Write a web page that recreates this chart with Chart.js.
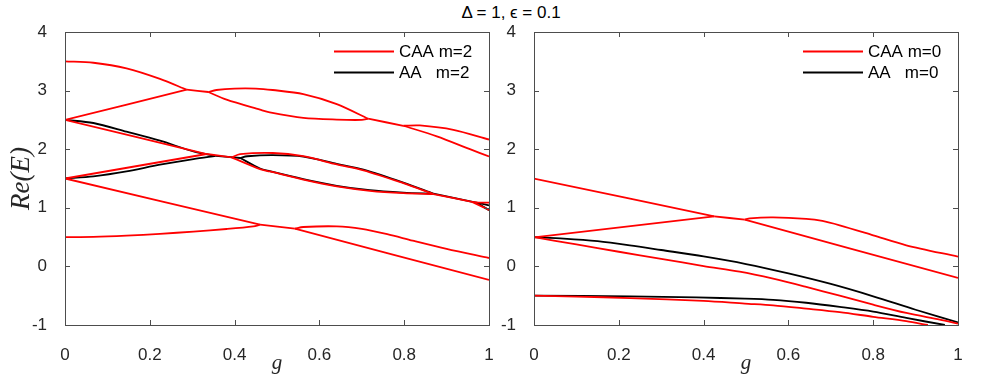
<!DOCTYPE html>
<html>
<head>
<meta charset="utf-8">
<script src="https://cdn.jsdelivr.net/npm/chart.js@4.4.1/dist/chart.umd.min.js"></script>
<style>
  body { margin: 0; background: #fff; width: 997px; height: 385px; position: relative; overflow: hidden; }
  #title { position: absolute; left: 411px; top: 3px; width: 200px; text-align: center;
           font: 17px "Liberation Sans", Arial, sans-serif; color: #000; white-space: pre; }
  canvas { position: absolute; top: 0; }
</style>
</head>
<body>
<div id="title">Δ = 1, ϵ = 0.1</div>
<canvas id="left" width="495" height="385" style="left:0"></canvas>
<canvas id="right" width="502" height="385" style="left:495px"></canvas>
<script>
    const gTicks = [0, 0.2, 0.4, 0.6, 0.8, 1];
    const gTickLabels = ['0', '0.2', '0.4', '0.6', '0.8', '1'];
    const eTicks = [-1, 0, 1, 2, 3, 4];
    const eTickLabels = ['-1', '0', '1', '2', '3', '4'];
    const leftLegend = ['CAA m=2', 'AA   m=2'];
    const rightLegend = ['CAA m=0', 'AA   m=0'];

    // m=2, CAA branches, each one a list of [g, Re(E)]
    const caa2 = [
        [[0, 3.5], [0.067, 3.475], [0.145, 3.38], [0.224, 3.2], [0.287, 3.015]],
        [[0, 2.5], [0.287, 3.015]],
        [[0.287, 3.015], [0.338, 2.976]],
        [[0.338, 2.976], [0.357, 3.01], [0.40, 3.035], [0.45, 3.035], [0.49, 3.01], [0.562, 2.94], [0.641, 2.77], [0.715, 2.52]],
        [[0.338, 2.976], [0.381, 2.845], [0.46, 2.674], [0.483, 2.628], [0.562, 2.535], [0.641, 2.505], [0.70, 2.50], [0.715, 2.52]],
        [[0.715, 2.52], [0.798, 2.40]],
        [[0.798, 2.40], [0.837, 2.405], [0.916, 2.33], [1, 2.165]],
        [[0.798, 2.40], [0.877, 2.22], [0.955, 2.0], [1, 1.877]],
        [[0, 2.5], [0.334, 1.918]],
        [[0, 1.5], [0.334, 1.918]],
        [[0.334, 1.918], [0.393, 1.86]],
        [[0.393, 1.86], [0.413, 1.915], [0.49, 1.935], [0.562, 1.88], [0.641, 1.74], [0.704, 1.64], [0.798, 1.42], [0.869, 1.235]],
        [[0.393, 1.86], [0.46, 1.66], [0.483, 1.62], [0.562, 1.48], [0.641, 1.365], [0.719, 1.29], [0.798, 1.25], [0.869, 1.235]],
        [[0.869, 1.235], [0.96, 1.10]],
        [[0.96, 1.10], [0.975, 1.09], [1, 1.09]],
        [[0.96, 1.10], [1, 0.965]],
        [[0, 1.5], [0.46, 0.712]],
        [[0, 0.5], [0.067, 0.503], [0.145, 0.524], [0.224, 0.555], [0.303, 0.595], [0.381, 0.638], [0.444, 0.683], [0.46, 0.712]],
        [[0.46, 0.712], [0.542, 0.643]],
        [[0.542, 0.643], [0.562, 0.672], [0.641, 0.683], [0.70, 0.64], [0.76, 0.55], [0.82, 0.44], [0.9, 0.30], [1, 0.143]],
        [[0.542, 0.643], [1, -0.23]]
    ];

    // m=2, AA branches
    const aa2 = [
        [[0, 2.5], [0.067, 2.447], [0.145, 2.30], [0.224, 2.145], [0.303, 1.963], [0.355, 1.885]],
        [[0, 1.5], [0.067, 1.536], [0.145, 1.62], [0.224, 1.735], [0.303, 1.83], [0.355, 1.885]],
        [[0.355, 1.885], [0.413, 1.85]],
        [[0.413, 1.85], [0.43, 1.88], [0.49, 1.90], [0.562, 1.875], [0.641, 1.75], [0.704, 1.65], [0.798, 1.43], [0.869, 1.24]],
        [[0.413, 1.85], [0.46, 1.67], [0.483, 1.625], [0.562, 1.49], [0.641, 1.375], [0.719, 1.30], [0.798, 1.26], [0.869, 1.24]],
        [[0.869, 1.24], [0.97, 1.09]],
        [[0.97, 1.09], [1, 1.04]],
        [[0.97, 1.09], [1, 0.96]]
    ];

    // m=0, CAA branches
    const caa0 = [
        [[0, 1.497], [0.425, 0.855]],
        [[0, 0.495], [0.425, 0.855]],
        [[0.425, 0.855], [0.497, 0.797]],
        [[0.497, 0.797], [0.509, 0.82], [0.564, 0.835], [0.642, 0.81], [0.68, 0.775], [0.721, 0.70], [0.8, 0.53], [0.878, 0.36], [1, 0.165]],
        [[0.497, 0.797], [1, -0.198]],
        [[0, 0.5], [0.1, 0.375], [0.2, 0.25], [0.3, 0.13], [0.4, 0.005], [0.485, -0.09], [0.564, -0.21], [0.642, -0.35], [0.721, -0.5], [0.8, -0.654], [0.878, -0.795], [0.957, -0.91], [1, -0.978]],
        [[0, -0.5], [0.1, -0.515], [0.226, -0.54], [0.4, -0.59], [0.497, -0.635], [0.564, -0.665], [0.642, -0.72], [0.721, -0.78], [0.8, -0.86], [0.878, -0.935], [0.929, -1.0]]
    ];

    // m=0, AA branches
    const aa0 = [
        [[0, 0.5], [0.07, 0.475], [0.15, 0.43], [0.226, 0.36], [0.3, 0.28], [0.4, 0.17], [0.5, 0.04], [0.6, -0.12], [0.7, -0.3], [0.8, -0.51], [0.9, -0.74], [1, -0.956]],
        [[0, -0.5], [0.226, -0.51], [0.383, -0.53], [0.497, -0.55], [0.564, -0.57], [0.642, -0.62], [0.721, -0.69], [0.8, -0.77], [0.878, -0.88], [0.969, -1.0]]
    ];

    const tickFont = { family: '"Liberation Sans", Arial, sans-serif', size: 17 };

    function toSets(branches, color) {
        return branches.map(b => ({
            data: b.map(p => ({ x: p[0], y: p[1] })),
            borderColor: color,
            borderWidth: 1.8,
            pointRadius: 0,
            fill: false,
            tension: 0.3
        }));
    }

    // box round the axes, inward ticks on all four sides, and the legend
    function framePlugin(labels) {
        return {
            id: 'frame',
            afterDatasetsDraw(chart) {
                const ctx = chart.ctx;
                const a = chart.chartArea;
                const xs = chart.scales.x, ys = chart.scales.y;
                ctx.save();
                ctx.strokeStyle = '#4d4d4d';
                ctx.lineWidth = 1;
                ctx.strokeRect(Math.round(a.left) + 0.5, Math.round(a.top) + 0.5,
                    Math.round(a.right - a.left), Math.round(a.bottom - a.top));
                ctx.beginPath();
                gTicks.forEach(v => {
                    const px = Math.round(xs.getPixelForValue(v)) + 0.5;
                    ctx.moveTo(px, a.bottom); ctx.lineTo(px, a.bottom - 5);
                    ctx.moveTo(px, a.top); ctx.lineTo(px, a.top + 5);
                });
                eTicks.forEach(v => {
                    const py = Math.round(ys.getPixelForValue(v)) + 0.5;
                    ctx.moveTo(a.left, py); ctx.lineTo(a.left + 5, py);
                    ctx.moveTo(a.right, py); ctx.lineTo(a.right - 5, py);
                });
                ctx.stroke();

                const colors = ['#ff0000', '#000000'];
                ctx.font = '17px "Liberation Sans", Arial, sans-serif';
                ctx.textBaseline = 'middle';
                ctx.fillStyle = '#000';
                labels.forEach((t, i) => {
                    const y = a.top + 19.5 + i * 21;
                    ctx.strokeStyle = colors[i];
                    ctx.lineWidth = 1.8;
                    ctx.beginPath();
                    ctx.moveTo(a.right - 155, y);
                    ctx.lineTo(a.right - 95, y);
                    ctx.stroke();
                    ctx.fillText(t, a.right - 90, y + 1);
                });
                ctx.restore();
            }
        };
    }

    function makeChart(id, red, black, labels, yWidth, padRight, withYTitle) {
        return new Chart(document.getElementById(id).getContext('2d'), {
            type: 'line',
            data: { datasets: toSets(red, '#ff0000').concat(toSets(black, '#000000')) },
            options: {
                responsive: false,
                animation: false,
                layout: { padding: { left: 0, right: padRight, top: 32, bottom: 0 } },
                plugins: { legend: { display: false }, tooltip: { enabled: false } },
                scales: {
                    x: {
                        type: 'linear', min: 0, max: 1,
                        afterBuildTicks: s => { s.ticks = gTicks.map(v => ({ value: v })); },
                        afterFit: s => { s.height = 60; s.paddingLeft = 0; s.paddingRight = 0; },
                        grid: { display: false },
                        border: { display: false },
                        ticks: { color: '#262626', font: tickFont, padding: 12, maxRotation: 0,
                                 callback: (v, i) => gTickLabels[i] },
                        title: { display: true, text: 'g', color: '#262626',
                                 font: { family: '"Liberation Serif", serif', size: 21, style: 'italic' },
                                 padding: { top: 0, bottom: 9 } }
                    },
                    y: {
                        type: 'linear', min: -1, max: 4,
                        afterBuildTicks: s => { s.ticks = eTicks.map(v => ({ value: v })); },
                        afterFit: s => { s.width = yWidth; },
                        grid: { display: false },
                        border: { display: false },
                        ticks: { color: '#262626', font: tickFont, padding: 10,
                                 callback: (v, i) => eTickLabels[i] },
                        title: { display: withYTitle, text: 'Re(E)', color: '#262626',
                                 font: { family: '"Liberation Serif", serif', size: 27, style: 'italic' },
                                 padding: { top: 6, bottom: 0 } }
                    }
                }
            },
            plugins: [framePlugin(labels)]
        });
    }

    makeChart('left', caa2, aa2, leftLegend, 65, 6, true);
    makeChart('right', caa0, aa0, rightLegend, 39, 39, false);
</script>
</body>
</html>
